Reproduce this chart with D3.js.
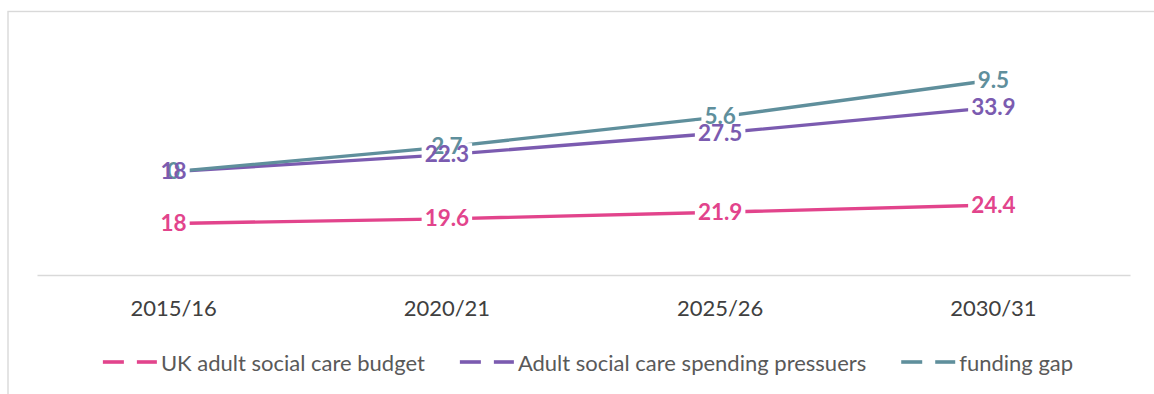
<!DOCTYPE html>
<html>
<head>
<meta charset="utf-8">
<script src="https://cdn.jsdelivr.net/npm/d3@7"></script>
<style>
  html, body { margin: 0; padding: 0; background: #fff; }
  svg { display: block; }
</style>
</head>
<body>
<svg id="chart" width="1154" height="394"></svg>
<script>
// Adult social care: budget, spending pressures and the funding gap (£bn)
const categories = ["2015/16", "2020/21", "2025/26", "2030/31"];
const budget = [18, 19.6, 21.9, 24.4];
const pressures = [18, 22.3, 27.5, 33.9];
const gap = [0, 2.7, 5.6, 9.5];
const seriesNames = ["UK adult social care budget", "Adult social care spending pressuers", "funding gap"];
const seriesKeys = ["budget", "pressures", "gap"];
const seriesColors = ["#e2448c", "#7b5bb0", "#5f8f9c"];

const W = 1154, H = 394;
const svg = d3.select("#chart");

// outer frame (left and top edges visible)
svg.append("rect")
  .attr("x", 8).attr("y", 11.5)
  .attr("width", W + 20).attr("height", H + 20)
  .attr("fill", "none").attr("stroke", "#d9d9d9").attr("stroke-width", 1.4);

const rows = categories.map((c, i) => ({ cat: c, budget: budget[i], pressures: pressures[i], gap: gap[i] }));
const stacked = d3.stack().keys(seriesKeys)(rows);

const x = d3.scaleBand().domain(categories).range([37, 1130]).paddingInner(0).paddingOuter(0);
const cx = c => x(c) + x.bandwidth() / 2;
const y = d3.scaleLinear().domain([0, 80]).range([275.3, 44.9]);

// category axis
const axis = svg.append("g")
  .attr("transform", "translate(0,275)")
  .call(d3.axisBottom(x).tickSizeInner(0).tickSizeOuter(0).tickPadding(25));
axis.select(".domain").attr("stroke", "#d9d9d9").attr("stroke-width", 1.6);
axis.selectAll(".tick text")
  .attr("font-family", "Lato, 'Open Sans', sans-serif")
  .attr("font-size", 22)
  .attr("fill", "#404040");

// lines are drawn through a mask so they break behind the value labels
const defs = svg.append("defs");
const mask = defs.append("mask").attr("id", "labelMask").attr("maskUnits", "userSpaceOnUse")
  .attr("x", 0).attr("y", 0).attr("width", W).attr("height", H);
mask.append("rect").attr("x", 0).attr("y", 0).attr("width", W).attr("height", H).attr("fill", "#fff");

const lineGen = d3.line().x(d => cx(d.data.cat)).y(d => y(d[1]));
const linesG = svg.append("g").attr("mask", "url(#labelMask)");
stacked.forEach((s, i) => {
  linesG.append("path")
    .datum(s)
    .attr("d", lineGen)
    .attr("fill", "none")
    .attr("stroke", seriesColors[i])
    .attr("stroke-width", 3.4)
    .attr("stroke-linejoin", "round");
});

// value labels (raw values placed at the stacked positions)
const labelsG = svg.append("g");
const drawOrder = [0, 2, 1];
drawOrder.forEach(i => {
  const s = stacked[i];
  s.forEach(d => {
    const t = labelsG.append("text")
      .attr("x", cx(d.data.cat))
      .attr("y", y(d[1]) - 1)
      .attr("text-anchor", "middle")
      .attr("dominant-baseline", "central")
      .attr("font-family", "Lato, 'Open Sans', sans-serif")
      .attr("font-weight", 700)
      .attr("font-size", 22.5)
      .attr("fill", seriesColors[i])
      .text(d.data[seriesKeys[i]]);
    const b = t.node().getBBox();
    mask.append("rect")
      .attr("x", b.x - 3).attr("y", b.y + 3)
      .attr("width", b.width + 6).attr("height", b.height - 6)
      .attr("fill", "#000");
  });
});

// legend
const legend = svg.append("g");
let cursor = 0;
seriesNames.forEach((name, i) => {
  const g = legend.append("g");
  g.append("line").attr("x1", 0).attr("x2", 21).attr("y1", 0).attr("y2", 0)
    .attr("stroke", seriesColors[i]).attr("stroke-width", 3.6);
  g.append("line").attr("x1", 34).attr("x2", 54).attr("y1", 0).attr("y2", 0)
    .attr("stroke", seriesColors[i]).attr("stroke-width", 3.6);
  const t = g.append("text")
    .attr("x", 58).attr("y", 0)
    .attr("dominant-baseline", "central")
    .attr("font-family", "Lato, 'Open Sans', sans-serif")
    .attr("font-size", 22)
    .attr("fill", "#595959")
    .text(name);
  const w = 58 + t.node().getComputedTextLength();
  g.attr("transform", `translate(${cursor},0)`);
  cursor += w + 35;
});
const totalW = cursor - 35;
const startX = 588 - totalW / 2;
legend.attr("transform", `translate(${startX},362)`);
</script>
</body>
</html>
